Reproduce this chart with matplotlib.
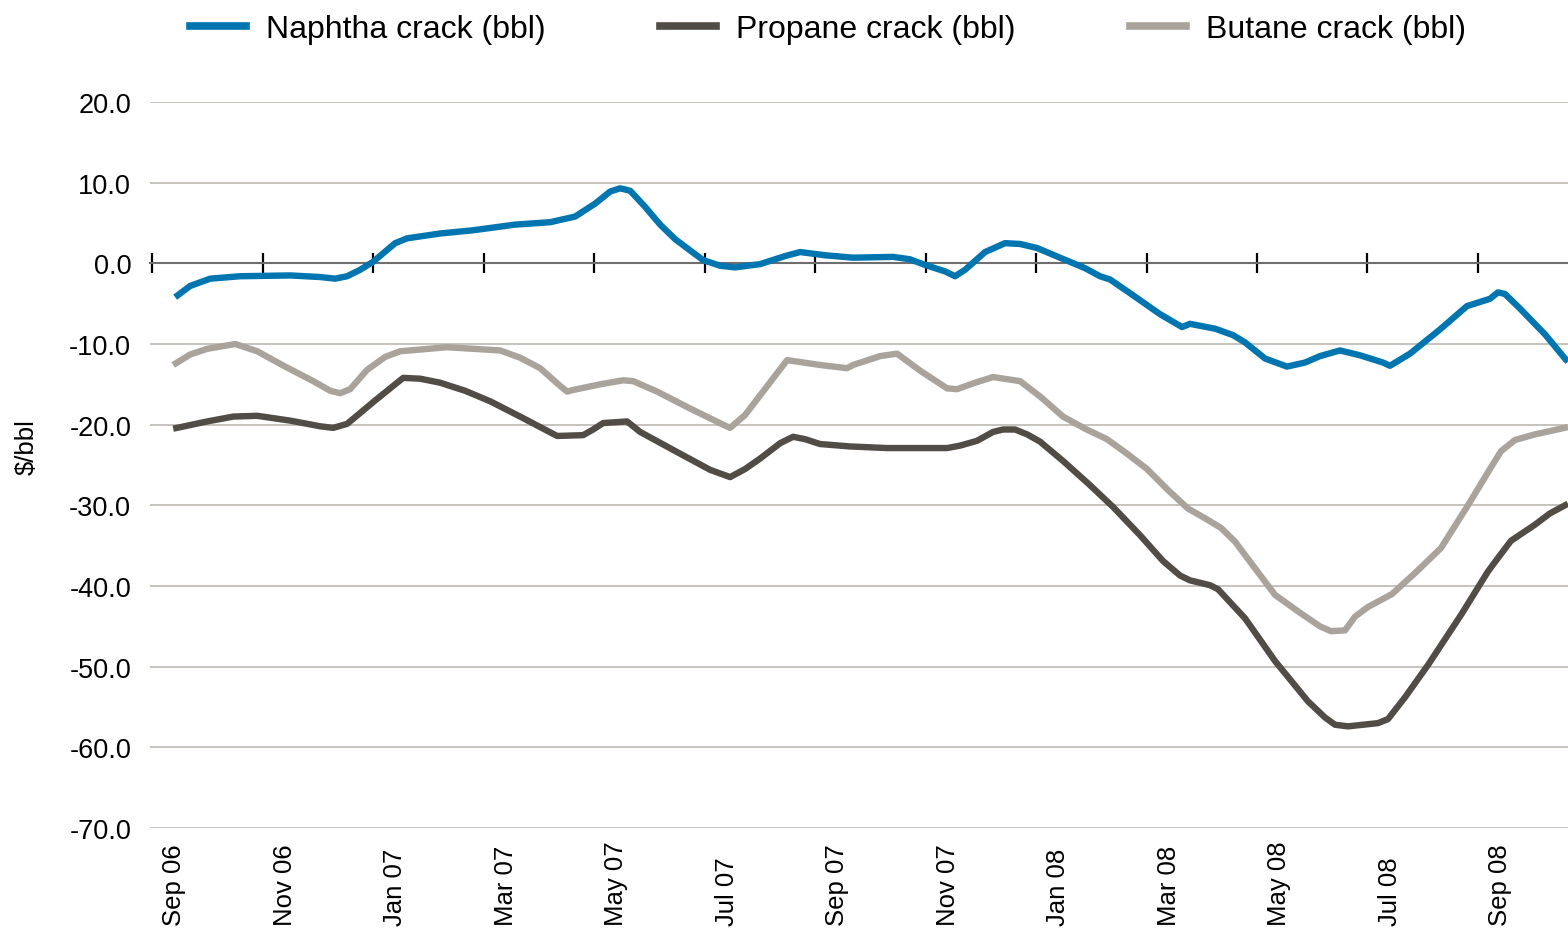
import matplotlib
matplotlib.use("Agg")
import matplotlib.pyplot as plt
import matplotlib.transforms as mtransforms
from matplotlib.lines import Line2D

plt.rcParams['font.family'] = ['Liberation Sans', 'DejaVu Sans']

# x values: months elapsed since 1 Sep 2006
naphtha_x = [0.416, 0.688, 1.050, 1.593, 2.498, 3.041, 3.312, 3.529, 3.765, 4.000,
             4.398, 4.615, 5.213, 5.810, 6.570, 7.204, 7.656, 8.018, 8.290, 8.471,
             8.652, 8.923, 9.195, 9.466, 9.738, 9.973, 10.281, 10.552, 11.005, 11.457,
             11.729, 12.181, 12.688, 13.412, 13.719, 13.991, 14.353, 14.534, 14.715, 15.077,
             15.439, 15.710, 16.018, 16.434, 16.887, 17.158, 17.339, 17.701, 18.244, 18.643,
             18.787, 19.240, 19.566, 19.783, 20.145, 20.543, 20.869, 21.140, 21.502, 21.864,
             22.281, 22.407, 22.769, 23.312, 23.801, 24.217, 24.362, 24.489, 24.760, 25.213,
             25.575, 25.629]
naphtha = [-4.2, -2.8, -1.9, -1.6, -1.5, -1.7, -1.9, -1.6, -0.8, 0.2,
           2.5, 3.1, 3.7, 4.1, 4.8, 5.1, 5.8, 7.4, 8.9, 9.3,
           9.0, 7.0, 4.8, 3.0, 1.6, 0.4, -0.3, -0.5, -0.1, 0.9,
           1.4, 1.0, 0.7, 0.8, 0.5, -0.2, -1.0, -1.6, -0.8, 1.4,
           2.5, 2.4, 1.9, 0.7, -0.6, -1.6, -2.0, -3.7, -6.3, -7.9,
           -7.5, -8.1, -8.9, -9.8, -11.8, -12.8, -12.3, -11.5, -10.8, -11.4,
           -12.3, -12.7, -11.2, -8.2, -5.3, -4.4, -3.6, -3.8, -5.6, -8.8,
           -11.8, -12.2]

propane_x = [0.380, 0.995, 1.466, 1.900, 2.498, 3.041, 3.276, 3.529, 4.036, 4.543,
             4.851, 5.213, 5.665, 6.118, 6.661, 7.330, 7.801, 7.982, 8.163, 8.597,
             8.706, 8.833, 9.557, 10.100, 10.462, 10.733, 11.005, 11.367, 11.602, 11.819,
             12.090, 12.633, 13.303, 14.389, 14.624, 14.932, 15.222, 15.403, 15.620, 15.837,
             16.072, 16.489, 16.977, 17.394, 17.882, 18.299, 18.606, 18.787, 19.149, 19.294,
             19.783, 20.326, 20.923, 21.231, 21.412, 21.647, 22.190, 22.371, 22.679, 23.095,
             23.692, 24.181, 24.398, 24.597, 25.032, 25.303, 25.629]
propane = [-20.5, -19.6, -19.0, -18.9, -19.5, -20.2, -20.4, -19.9, -17.0, -14.2,
           -14.3, -14.8, -15.8, -17.1, -19.0, -21.4, -21.3, -20.6, -19.8, -19.6,
           -20.2, -20.9, -23.6, -25.6, -26.5, -25.5, -24.2, -22.3, -21.5, -21.8,
           -22.4, -22.7, -22.9, -22.9, -22.6, -22.0, -20.9, -20.6, -20.6, -21.2,
           -22.1, -24.5, -27.5, -30.2, -33.7, -36.9, -38.7, -39.3, -39.9, -40.4,
           -44.0, -49.3, -54.3, -56.3, -57.2, -57.4, -57.0, -56.5, -53.8, -49.8,
           -43.6, -38.2, -36.2, -34.4, -32.4, -31.0, -29.8]

butane_x = [0.380, 0.688, 0.995, 1.502, 1.900, 2.407, 2.914, 3.222, 3.403, 3.584,
            3.891, 4.217, 4.489, 5.339, 6.299, 6.661, 7.023, 7.385, 7.511, 7.620,
            8.109, 8.525, 8.706, 9.140, 9.738, 10.335, 10.462, 10.733, 11.493, 12.090,
            12.579, 12.688, 13.176, 13.484, 13.900, 14.389, 14.570, 14.896, 15.222, 15.710,
            16.072, 16.489, 16.887, 17.285, 17.647, 18.009, 18.389, 18.751, 19.059, 19.348,
            19.602, 19.964, 20.326, 20.796, 21.140, 21.339, 21.593, 21.774, 22.009, 22.443,
            22.860, 23.330, 23.819, 24.217, 24.416, 24.670, 25.032, 25.303, 25.629]
butane = [-12.6, -11.3, -10.6, -10.0, -10.9, -12.8, -14.6, -15.8, -16.1, -15.6,
          -13.2, -11.6, -10.9, -10.4, -10.8, -11.7, -13.0, -15.2, -15.9, -15.7,
          -15.0, -14.5, -14.6, -15.9, -18.0, -20.0, -20.4, -18.8, -12.0, -12.6,
          -13.0, -12.6, -11.5, -11.2, -13.3, -15.5, -15.6, -14.8, -14.1, -14.6,
          -16.5, -19.0, -20.5, -21.8, -23.6, -25.5, -28.1, -30.4, -31.6, -32.8,
          -34.5, -37.8, -41.1, -43.4, -45.0, -45.6, -45.5, -43.8, -42.6, -41.0,
          -38.4, -35.3, -30.0, -25.5, -23.3, -21.9, -21.2, -20.8, -20.3]

tick_months = [0, 2, 4, 6, 8, 10, 12, 14, 16, 18, 20, 22, 24]
tick_labels = ['Sep 06', 'Nov 06', 'Jan 07', 'Mar 07', 'May 07', 'Jul 07', 'Sep 07',
               'Nov 07', 'Jan 08', 'Mar 08', 'May 08', 'Jul 08', 'Sep 08']
y_ticks = [20, 10, 0, -10, -20, -30, -40, -50, -60, -70]

series_names = ['Naphtha crack (bbl)', 'Propane crack (bbl)', 'Butane crack (bbl)']
colors = ['#0075B0', '#524C46', '#A9A39C']

W, H = 1568, 929
fig = plt.figure(figsize=(W / 100, H / 100), dpi=100)
ax = fig.add_axes([150 / W, 1 - 829 / H, (1568 - 150) / W, (829 - 103) / H])

ax.set_xlim(-0.04, 25.63)
ax.set_ylim(-70, 20)

# gridlines
for yv in y_ticks:
    if yv != 0:
        ax.axhline(yv, color='#c2bdb7', lw=1.3, zorder=1)

lw = 4.6
ax.plot(butane_x, butane, color=colors[2], lw=lw, solid_joinstyle='round', solid_capstyle='butt', zorder=3)
ax.plot(propane_x, propane, color=colors[1], lw=lw, solid_joinstyle='round', solid_capstyle='butt', zorder=4)
ax.plot(naphtha_x, naphtha, color=colors[0], lw=lw, solid_joinstyle='round', solid_capstyle='butt', zorder=5)

for s in ['top', 'right', 'left']:
    ax.spines[s].set_visible(False)
ax.spines['bottom'].set_position(('data', 0))
ax.spines['bottom'].set_color('#6e6e6e')
ax.spines['bottom'].set_linewidth(1.5)
ax.spines['bottom'].set_zorder(2)

ax.set_xticks(tick_months)
ax.tick_params(axis='x', direction='inout', length=14, width=1.6, color='black',
               labelbottom=False)
ax.set_yticks(y_ticks)
ax.set_yticklabels([f'{v:.1f}' for v in y_ticks])
ax.tick_params(axis='y', length=0, pad=13.5, labelsize=19.5)

trans = mtransforms.blended_transform_factory(ax.transData, fig.transFigure)
for m, lab in zip(tick_months, tick_labels):
    ax.text(m + 0.4, 1 - 926 / H, lab, rotation=90, ha='center', va='bottom',
            fontsize=18.5, transform=trans)

fig.text(27 / W, 1 - 447 / H, '$/bbl', rotation=90, ha='center', va='center', fontsize=18.5)

handles = [Line2D([0], [0], color=c, lw=5.5) for c in colors]
fig.legend(handles, series_names, loc='center', bbox_to_anchor=(828 / W, 1 - 30 / H),
           ncol=3, frameon=False, fontsize=23, handlelength=1.75, handletextpad=0.62,
           columnspacing=3.6, borderaxespad=0, borderpad=0)

fig.savefig('out.png', dpi=100)
